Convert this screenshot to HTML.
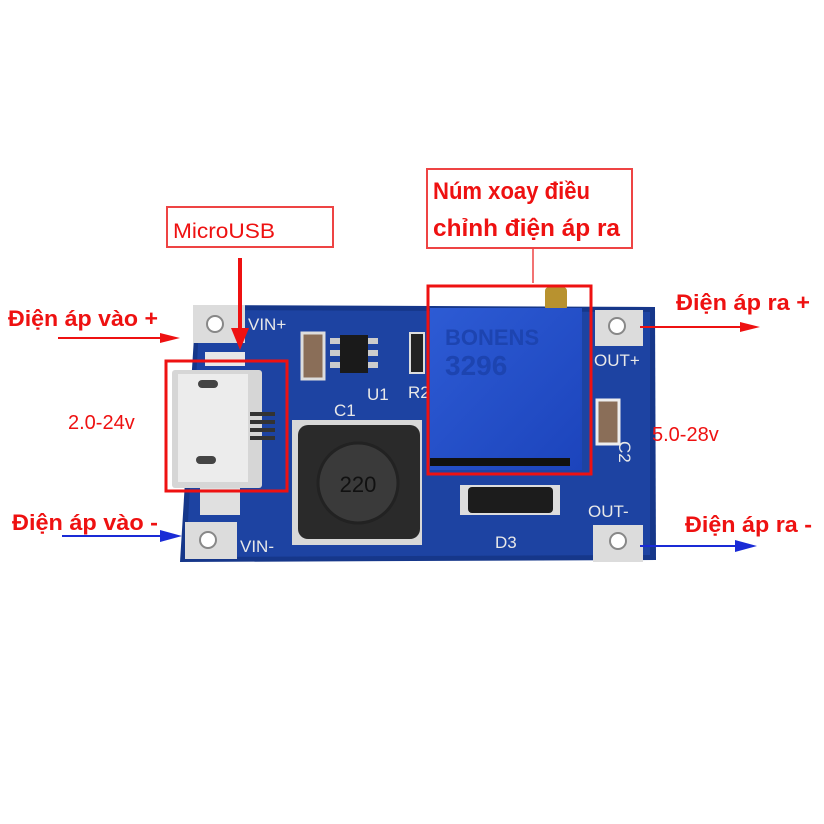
<!DOCTYPE html>
<html><head><meta charset="utf-8"><style>
body{margin:0;background:#fff}
svg{display:block}
text{font-family:"Liberation Sans","DejaVu Sans",sans-serif}
</style></head><body>
<svg width="824" height="824" viewBox="0 0 824 824">
<defs>
<linearGradient id="pot" x1="0" y1="0" x2="1" y2="1"><stop offset="0" stop-color="#2d5bd4"/><stop offset="1" stop-color="#1c44bc"/></linearGradient>
</defs>
<polygon points="196,305 655,307 656,560 180,562" fill="#16378a"/>
<polygon points="200,310 650,312 650,555 186,557" fill="#1d43a2"/>
<rect x="193" y="305" width="52" height="38" fill="#dcdcdc"/><circle cx="215" cy="324" r="8" fill="#fff" stroke="#888" stroke-width="2"/>
<rect x="185" y="522" width="52" height="37" fill="#dcdcdc"/><circle cx="208" cy="540" r="8" fill="#fff" stroke="#888" stroke-width="2"/>
<rect x="595" y="310" width="48" height="36" fill="#dcdcdc"/><circle cx="617" cy="326" r="8" fill="#fff" stroke="#888" stroke-width="2"/>
<rect x="593" y="525" width="50" height="37" fill="#dcdcdc"/><circle cx="618" cy="541" r="8" fill="#fff" stroke="#888" stroke-width="2"/>
<rect x="205" y="352" width="40" height="14" fill="#e8e8e8"/>
<rect x="200" y="485" width="40" height="30" fill="#e0e0e0"/>
<rect x="172" y="370" width="90" height="118" fill="#d6d6d6" rx="3"/>
<rect x="178" y="374" width="70" height="108" fill="#ececec"/>
<rect x="198" y="380" width="20" height="8" rx="4" fill="#444"/>
<rect x="196" y="456" width="20" height="8" rx="4" fill="#444"/>
<g fill="#333"><rect x="250" y="412" width="25" height="4"/><rect x="250" y="420" width="25" height="4"/><rect x="250" y="428" width="25" height="4"/><rect x="250" y="436" width="25" height="4"/></g>
<rect x="302" y="333" width="22" height="46" fill="#8a6e58" stroke="#ddd" stroke-width="3"/>
<rect x="340" y="335" width="28" height="38" fill="#1a1a1a"/>
<g fill="#ccc"><rect x="330" y="338" width="10" height="6"/><rect x="330" y="350" width="10" height="6"/><rect x="330" y="362" width="10" height="6"/><rect x="368" y="338" width="10" height="6"/><rect x="368" y="350" width="10" height="6"/><rect x="368" y="362" width="10" height="6"/></g>
<rect x="410" y="333" width="14" height="40" fill="#222" stroke="#ddd" stroke-width="2"/>
<g fill="#e8e8e8" font-size="17">
<text x="248" y="330">VIN+</text><text x="367" y="400">U1</text><text x="334" y="416">C1</text><text x="408" y="398">R2</text>
<text x="594" y="366">OUT+</text><text x="588" y="517">OUT-</text><text x="240" y="552">VIN-</text><text x="495" y="548">D3</text>
<text x="648" y="438" transform="rotate(90 632 425)">C2</text>
</g>
<rect x="292" y="420" width="130" height="125" fill="#d8d8d8"/>
<rect x="298" y="425" width="122" height="114" rx="10" fill="#2a2a2a"/>
<circle cx="358" cy="483" r="40" fill="#3a3a3a" stroke="#222" stroke-width="3"/>
<text x="358" y="492" font-size="22" fill="#111" text-anchor="middle">220</text>
<rect x="597" y="400" width="22" height="44" fill="#8a6e58" stroke="#eee" stroke-width="3"/>
<rect x="460" y="485" width="100" height="30" fill="#ddd"/>
<rect x="468" y="487" width="85" height="26" rx="4" fill="#1c1c1c"/>
<rect x="545" y="287" width="22" height="24" rx="4" fill="#b8922f"/>
<rect x="430" y="308" width="152" height="162" fill="url(#pot)"/>
<text x="445" y="345" font-size="22" fill="#1d44b0" font-weight="bold">BONENS</text>
<text x="445" y="375" font-size="28" fill="#1d44b0" font-weight="bold">3296</text>
<rect x="430" y="458" width="140" height="8" fill="#111"/>
<g fill="none" stroke="#e11" stroke-width="3">
<rect x="166" y="361" width="121" height="130"/>
<rect x="428" y="286" width="163" height="188"/>
</g>
<g fill="none" stroke="#e44" stroke-width="2">
<rect x="167" y="207" width="166" height="40"/>
<rect x="427" y="169" width="205" height="79"/>
</g>
<line x1="533" y1="248" x2="533" y2="283" stroke="#e44" stroke-width="1.5"/>
<line x1="240" y1="258" x2="240" y2="330" stroke="#e11" stroke-width="4"/>
<polygon points="231,328 249,328 240,350" fill="#e11"/>
<text x="173" y="238" font-family="Liberation Mono,monospace" font-size="21" fill="#e11" textLength="102" lengthAdjust="spacingAndGlyphs">MicroUSB</text>
<text x="433" y="199" font-size="24" font-weight="bold" fill="#e11" textLength="157" lengthAdjust="spacingAndGlyphs">Núm xoay điều</text>
<text x="433" y="236" font-size="24" font-weight="bold" fill="#e11" textLength="187" lengthAdjust="spacingAndGlyphs">chỉnh điện áp ra</text>
<text x="8" y="326" font-size="22" font-weight="bold" fill="#e11" textLength="150" lengthAdjust="spacingAndGlyphs">Điện áp vào +</text>
<line x1="58" y1="338" x2="165" y2="338" stroke="#e11" stroke-width="2"/>
<polygon points="160,333 180,338 160,343" fill="#e11"/>
<text x="676" y="310" font-size="22" font-weight="bold" fill="#e11" textLength="134" lengthAdjust="spacingAndGlyphs">Điện áp ra +</text>
<line x1="640" y1="327" x2="745" y2="327" stroke="#e11" stroke-width="2"/>
<polygon points="740,322 760,327 740,332" fill="#e11"/>
<text x="68" y="429" font-family="Liberation Mono,monospace" font-size="20" fill="#e11">2.0-24v</text>
<text x="652" y="441" font-family="Liberation Mono,monospace" font-size="20" fill="#e11">5.0-28v</text>
<text x="12" y="530" font-size="22" font-weight="bold" fill="#e11" textLength="146" lengthAdjust="spacingAndGlyphs">Điện áp vào -</text>
<line x1="62" y1="536" x2="165" y2="536" stroke="#1a2bd6" stroke-width="2"/>
<polygon points="160,530 182,536 160,542" fill="#1a2bd6"/>
<text x="685" y="532" font-size="22" font-weight="bold" fill="#e11" textLength="127" lengthAdjust="spacingAndGlyphs">Điện áp ra -</text>
<line x1="640" y1="546" x2="740" y2="546" stroke="#1a2bd6" stroke-width="2"/>
<polygon points="735,540 757,546 735,552" fill="#1a2bd6"/>
</svg>
</body></html>
